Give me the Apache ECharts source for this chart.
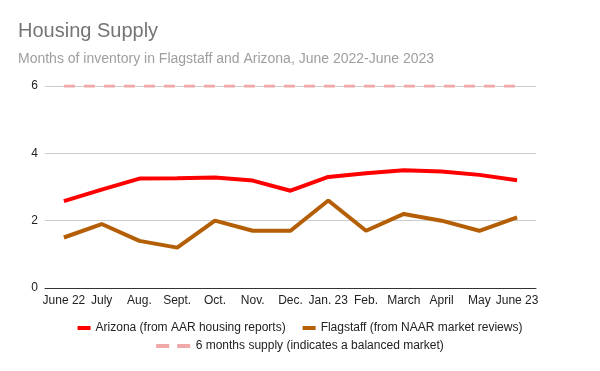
<!DOCTYPE html>
<html>
<head>
<meta charset="utf-8">
<script src="https://cdn.jsdelivr.net/npm/echarts@6/dist/echarts.min.js"></script>
<style>
html,body{margin:0;padding:0;background:#fff;}
#chart{width:600px;height:371px;}
</style>
</head>
<body>
<div id="chart"></div>
<script>
const categories = ['June 22','July','Aug.','Sept.','Oct.','Nov.','Dec.','Jan. 23','Feb.','March','April','May','June 23'];
const arizona = [2.58, 2.92, 3.25, 3.26, 3.28, 3.19, 2.89, 3.30, 3.41, 3.50, 3.46, 3.36, 3.20];
const flagstaff = [1.5, 1.9, 1.4, 1.2, 2.0, 1.7, 1.7, 2.6, 1.7, 2.2, 2.0, 1.7, 2.1];
const balanced = [6, 6, 6, 6, 6, 6, 6, 6, 6, 6, 6, 6, 6];
const yTicks = [0, 2, 4, 6];

const FONT = '"Liberation Sans", Arial, sans-serif';
const names = ['Arizona (from AAR housing reports)', 'Flagstaff (from NAAR market reviews)', '6 months supply (indicates a balanced market)'];

const chart = echarts.init(document.getElementById('chart'), null, {renderer: 'canvas'});
chart.setOption({
  animation: false,
  backgroundColor: '#ffffff',
  title: [
    {text: 'Housing Supply', left: 13, top: 16, textStyle: {fontFamily: FONT, fontSize: 20, fontWeight: 'normal', color: '#757575'}},
    {text: 'Months of inventory in Flagstaff and Arizona, June 2022-June 2023', left: 13, top: 47, textStyle: {fontFamily: FONT, fontSize: 14, fontWeight: 'normal', color: '#9e9e9e'}}
  ],
  legend: [
    {
      data: [{name: names[0], icon: 'rect'}, {name: names[1], icon: 'rect'}],
      top: 317, left: 'center', itemWidth: 13, itemHeight: 4, itemGap: 17,
      textStyle: {fontFamily: FONT, fontSize: 12, color: '#222'}
    },
    {
      data: [{name: names[2], icon: 'path://M0,0h13v4h-13z M21,0h13v4h-13z', itemStyle: {color: '#f0a8a8'}}],
      top: 335, left: 'center', itemWidth: 35, itemHeight: 4,
      textStyle: {fontFamily: FONT, fontSize: 12, color: '#222'}
    }
  ],
  grid: {left: 45, right: 64, top: 86, bottom: 83},
  xAxis: {
    type: 'category',
    data: categories,
    boundaryGap: true,
    axisLine: {lineStyle: {color: '#333', width: 1}},
    axisTick: {show: false},
    axisLabel: {fontFamily: FONT, fontSize: 12, color: '#222', margin: 7, interval: 0}
  },
  yAxis: {
    type: 'value',
    min: yTicks[0], max: yTicks[yTicks.length - 1], interval: 2,
    axisLine: {show: false},
    axisTick: {show: false},
    splitLine: {lineStyle: {color: '#cccccc', width: 1}},
    axisLabel: {fontFamily: FONT, fontSize: 12, color: '#222', margin: 7}
  },
  series: [
    {
      name: names[2], type: 'line', data: balanced, symbol: 'none', z: 1,
      itemStyle: {color: '#f0a8a8'},
      lineStyle: {color: '#f0a8a8', width: 3, type: [11, 9]}
    },
    {
      name: names[1], type: 'line', data: flagstaff, symbol: 'none', z: 2,
      itemStyle: {color: '#b45f06'},
      lineStyle: {color: '#b45f06', width: 4}
    },
    {
      name: names[0], type: 'line', data: arizona, symbol: 'none', z: 3,
      itemStyle: {color: '#ff0000'},
      lineStyle: {color: '#ff0000', width: 4}
    }
  ]
});
</script>
</body>
</html>
